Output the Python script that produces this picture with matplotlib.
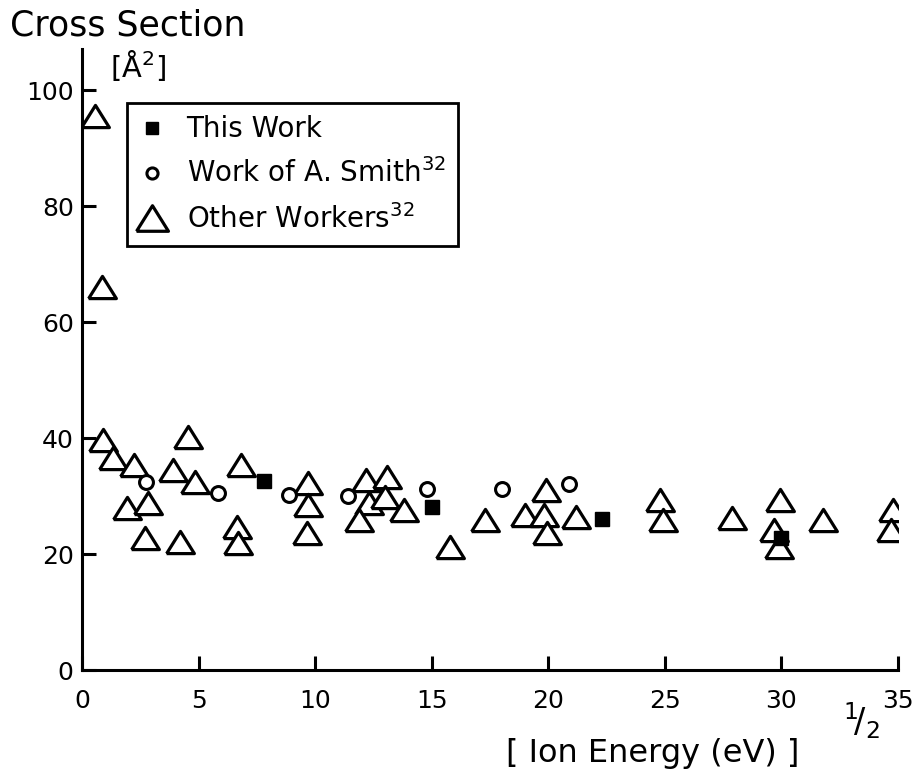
import matplotlib
matplotlib.use("Agg")
import matplotlib.pyplot as plt

# This Work
this_x = [7.8, 15.0, 22.3, 30.0]
this_y = [32.6, 28.1, 26.0, 22.8]

# Work of A. Smith
smith_x = [2.75, 5.85, 8.9, 11.4, 14.8, 18.0, 20.9]
smith_y = [32.4, 30.5, 30.2, 30.0, 31.2, 31.2, 32.1]

# Other workers
other_x = [0.55, 0.85, 0.9, 1.35, 2.25, 1.95, 2.85, 2.7, 4.2, 3.9, 4.55, 4.85,
           6.8, 6.65, 6.7, 9.7, 9.7, 9.65, 12.2, 13.1, 12.3, 13.0, 11.9, 13.8,
           15.8, 17.3, 19.0, 19.9, 19.8, 19.95, 21.2, 24.8, 24.9, 27.9, 29.95,
           29.7, 29.9, 31.8, 34.8, 34.7]
other_y = [95.5, 66.0, 39.7, 36.5, 35.3, 27.9, 28.8, 22.7, 22.0, 34.5, 40.2, 32.4,
           35.3, 24.7, 21.9, 32.2, 28.4, 23.6, 32.8, 33.3, 28.8, 29.8, 25.9, 27.6,
           21.2, 25.9, 26.7, 31.0, 26.7, 23.6, 26.4, 29.3, 25.9, 26.2, 29.3,
           24.1, 21.2, 25.9, 27.6, 24.1]

x_ticks = [0, 5, 10, 15, 20, 25, 30, 35]
y_ticks = [0, 20, 40, 60, 80, 100]

plt.rcParams['font.family'] = 'DejaVu Sans'

# flattened triangle like the hand drawn ones
tri = [(-1, -0.8), (1, -0.8), (0, 0.8), (-1, -0.8)]

fig = plt.figure(figsize=(9.18, 7.77), dpi=100)
ax = fig.add_axes([0.0893, 0.1377, 0.8889, 0.7987])

ax.plot(other_x, other_y, linestyle='none', marker=tri, markersize=20,
        markerfacecolor='white', markeredgecolor='black', markeredgewidth=2.3,
        label='Other Workers$^{32}$')
ax.plot(smith_x, smith_y, linestyle='none', marker='o', markersize=10,
        markerfacecolor='white', markeredgecolor='black', markeredgewidth=2.2,
        label='Work of A. Smith$^{32}$')
ax.plot(this_x, this_y, linestyle='none', marker='s', markersize=10,
        color='black', label='This Work')

ax.set_xlim(0, 35)
ax.set_ylim(0, 107)
ax.set_xticks(x_ticks)
ax.set_yticks(y_ticks)
ax.tick_params(direction='in', length=10, width=2.2, labelsize=18, pad=6)
ax.tick_params(axis='x', pad=14)
for s in ['top', 'right']:
    ax.spines[s].set_visible(False)
for s in ['left', 'bottom']:
    ax.spines[s].set_linewidth(2.2)

h, l = ax.get_legend_handles_labels()
leg = ax.legend(h[::-1], l[::-1], loc='upper left', bbox_to_anchor=(0.055, 0.914),
                borderaxespad=0, fontsize=20, frameon=True, fancybox=False,
                edgecolor='black', framealpha=1, handlelength=0.9,
                handletextpad=0.8, labelspacing=0.55, borderpad=0.45)
leg.get_frame().set_linewidth(2)
leg.legend_handles[0].set_markersize(9)
leg.legend_handles[1].set_markersize(8)
leg.legend_handles[2].set_markersize(23)

fig.text(10 / 918, 1 - 8 / 777, 'Cross Section', fontsize=25, va='top', ha='left')
fig.text(110 / 918, 1 - 48 / 777, '[Å$^2$]', fontsize=21, va='top', ha='left')
fig.text(506 / 918, 1 - 762 / 777, '[ Ion Energy (eV) ]', fontsize=23,
         va='baseline', ha='left')
fig.text(843 / 918, 1 - 733 / 777, '$^{1}\\!/_{2}$', fontsize=24,
         va='baseline', ha='left')

fig.savefig('out.png', dpi=100)
